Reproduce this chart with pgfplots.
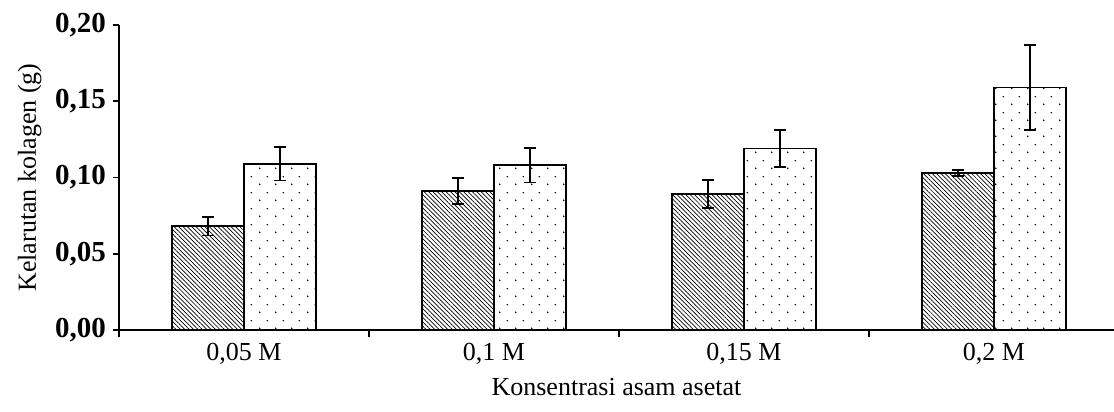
\documentclass[border=0pt]{standalone}
\usepackage{fontspec}
\setmainfont{Liberation Serif}
\usepackage{pgfplots}
\pgfplotsset{compat=1.18}
\usetikzlibrary{patterns,patterns.meta}
\tikzdeclarepattern{
  name=mydots,
  bounding box={(0,0) and (8pt,8pt)},
  tile size={(8pt,8pt)},
  code={
    \fill[black!80] (2pt,2pt) circle (0.45pt);
    \fill[black!80] (6pt,6pt) circle (0.45pt);
  }
}
\begin{document}
\begin{tikzpicture}
\useasboundingbox (-59.5pt,-41pt) rectangle (497.5pt,165pt);
\begin{axis}[
  at={(0,0)}, anchor=south west,
  scale only axis,
  width=497.5pt, height=152.5pt,
  xmin=-0.5, xmax=3.48,
  ymin=0, ymax=0.2,
  axis x line=bottom, axis y line=left,
  axis line style={-, line width=1pt},
  tick align=outside,
  ytick={0,0.05,0.1,0.15,0.2},
  yticklabel style={font=\fontsize{14.5}{16}\selectfont\bfseries,
    /pgf/number format/.cd, fixed, fixed zerofill, precision=2, use comma, assume math mode=true},
  xtick={0,1,2,3},
  xticklabels={{0,05 M}, {0,1 M}, {0,15 M}, {0,2 M}},
  xticklabel style={font=\fontsize{13}{15}\selectfont},
  major x tick style={draw=none},
  minor xtick={-0.5,0.5,1.5,2.5},
  minor tick length=3.5pt,
  major tick length=3pt,
  tick style={line width=0.9pt, black},
  xlabel={Konsentrasi asam asetat},
  ylabel={Kelarutan kolagen (g)},
  label style={font=\fontsize{13}{15}\selectfont},
  ybar=0pt, bar width=36pt,
  clip=false,
  error bars/error bar style={line width=0.9pt, black},
  error bars/error mark options={line width=0.9pt, mark size=3pt, rotate=90, black},
]
\addplot[draw=black, line width=0.8pt, pattern={Lines[angle=-45,distance=1.55pt,line width=0.35pt]},
  error bars/.cd, y dir=both, y explicit]
  coordinates {(0,0.068) +- (0,0.006) (1,0.091) +- (0,0.0085) (2,0.089) +- (0,0.0092) (3,0.103) +- (0,0.002)};
\addplot[draw=black, line width=0.8pt, pattern=mydots,
  error bars/.cd, y dir=both, y explicit]
  coordinates {(0,0.109) +- (0,0.011) (1,0.108) +- (0,0.0113) (2,0.119) +- (0,0.0123) (3,0.159) +- (0,0.028)};
\end{axis}
\end{tikzpicture}
\end{document}
